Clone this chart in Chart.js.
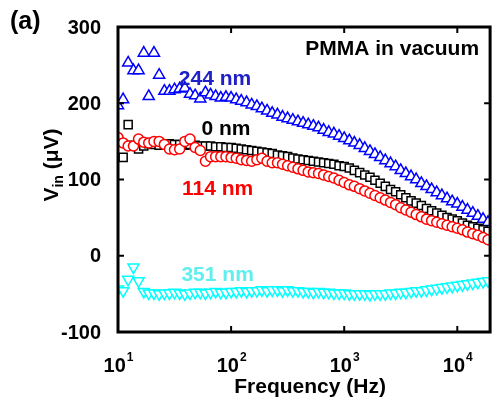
<!DOCTYPE html>
<html>
<head>
<meta charset="utf-8">
<script src="https://cdn.jsdelivr.net/npm/chart.js@4"></script>
<style>
  body { margin: 0; background: #fff; }
  canvas { display: block; }
</style>
</head>
<body>
<canvas id="myChart" width="498" height="413"></canvas>
<script>
// frequency sweep (Hz), shared by all four films
const freqHz = [10, 11.1, 12.3, 13.7, 15.2, 16.9, 18.7, 20.8, 23.1, 25.7, 28.5, 31.6, 35.1, 39, 43.3, 48.1, 53.4, 59.3, 65.8, 73, 81.1, 90.1,
  100, 111, 123, 137, 152, 169, 187, 208, 231, 257, 285, 316, 351, 390, 433, 481, 534, 593, 658, 730, 811, 901,
  1000, 1110, 1230, 1370, 1520, 1690, 1870, 2080, 2310, 2570, 2850, 3160, 3510, 3900, 4330, 4810, 5340, 5930, 6580, 7310, 8110, 9010,
  10000, 11100, 12300, 13700, 15200, 16900, 18700];

// V_in in microvolts
const vin114 = [155, 148, 144, 144, 153, 149, 148, 150, 150, 146, 140, 139, 140, 150, 153, 142, 138, 124, 130, 130, 130, 130,
  129, 128, 126, 125, 124, 126, 128, 124, 122, 122, 120, 118, 116, 114, 112, 110, 109, 108, 106, 104, 102, 99,
  96, 93, 91, 88, 85, 82, 79, 76, 73, 70, 67, 63, 60, 57, 54, 51, 48, 46, 44, 42, 40, 38,
  36, 34, 31, 29, 27, 24, 21];
const vin0 = [150, 129, 172, 145, 140, 144, 147, 146, 145, 147, 147, 146, 146, 145, 146, 145, 144, 144, 144, 143, 143, 142,
  142, 141, 140, 139, 138, 137, 136, 135, 134, 132, 131, 130, 128, 127, 126, 125, 124, 123, 122, 121, 120, 118,
  117, 115, 112, 109, 106, 103, 99, 95, 91, 87, 84, 80, 76, 72, 69, 66, 62, 59, 56, 53, 50, 48,
  46, 43, 40, 38, 36, 34, 32];
const vin244 = [197, 205, 253, 243, 243, 266, 209, 266, 237, 216, 216, 218, 219, 220, 212, 210, 206, 214, 211, 209, 207, 208,
  207, 205, 203, 201, 198, 196, 193, 190, 187, 185, 182, 180, 178, 176, 174, 172, 170, 168, 165, 162, 160, 157,
  154, 151, 148, 145, 141, 137, 133, 129, 125, 121, 117, 112, 108, 104, 100, 95, 91, 87, 83, 79, 75, 71,
  68, 64, 60, 56, 52, 48, 44];
const vin351 = [-44, -46, -31, -15, -33, -47, -49, -49, -50, -49, -49, -48, -49, -50, -49, -48, -48, -49, -48, -47, -48, -48,
  -47, -47, -46, -47, -46, -46, -45, -46, -45, -45, -46, -45, -46, -46, -47, -47, -48, -47, -48, -48, -49, -49,
  -49, -50, -50, -50, -50, -51, -50, -50, -50, -49, -49, -48, -48, -47, -46, -46, -45, -44, -43, -42, -41, -40,
  -39, -38, -37, -36, -35, -34, -33];

const xTicks = [10, 100, 1000, 10000];
const yTicks = [-100, 0, 100, 200, 300];

const FONT = '"Liberation Sans", Arial, sans-serif';

const pts = vals => vals.map((v, i) => ({ x: freqHz[i], y: v }));

// text labels next to each curve, placed in data coordinates
const curveLabels = [
  { text: '244 nm', x: 72, y: 232, color: '#2020c8' },
  { text: '0 nm', x: 90, y: 166, color: '#000000' },
  { text: '114 nm', x: 76, y: 87, color: '#ff0000' },
  { text: '351 nm', x: 76, y: -25, color: '#60eeee' }
];

const frame = {
  id: 'frame',
  afterDatasetsDraw(chart) {
    const { ctx, chartArea: a, scales: { x, y } } = chart;
    ctx.save();
    ctx.strokeStyle = '#000';
    ctx.fillStyle = '#000';

    // inward ticks on all four sides
    ctx.lineWidth = 2;
    ctx.beginPath();
    xTicks.forEach(v => {
      const px = x.getPixelForValue(v);
      ctx.moveTo(px, a.bottom); ctx.lineTo(px, a.bottom - 6);
      ctx.moveTo(px, a.top); ctx.lineTo(px, a.top + 6);
    });
    yTicks.forEach(v => {
      const py = y.getPixelForValue(v);
      ctx.moveTo(a.left, py); ctx.lineTo(a.left + 6, py);
      ctx.moveTo(a.right, py); ctx.lineTo(a.right - 6, py);
    });
    ctx.stroke();

    ctx.lineWidth = 3;
    ctx.strokeRect(a.left, a.top, a.width, a.height);

    // y tick labels
    ctx.font = 'bold 20px ' + FONT;
    ctx.textAlign = 'right';
    ctx.textBaseline = 'middle';
    yTicks.forEach(v => ctx.fillText(String(v), a.left - 17, y.getPixelForValue(v) + 1));

    // x tick labels 10^n
    ctx.textBaseline = 'alphabetic';
    xTicks.forEach(v => {
      const px = x.getPixelForValue(v);
      const exp = String(Math.round(Math.log10(v)));
      ctx.font = 'bold 20px ' + FONT;
      const w1 = ctx.measureText('10').width;
      ctx.font = 'bold 12px ' + FONT;
      const w2 = ctx.measureText(exp).width;
      const left = px - (w1 + w2) / 2;
      ctx.textAlign = 'left';
      ctx.font = 'bold 20px ' + FONT;
      ctx.fillText('10', left, a.bottom + 40);
      ctx.font = 'bold 12px ' + FONT;
      ctx.fillText(exp, left + w1 + 1, a.bottom + 29);
    });

    // x title
    ctx.font = 'bold 21px ' + FONT;
    ctx.textAlign = 'center';
    ctx.fillText('Frequency (Hz)', (a.left + a.right) / 2 + 6, a.bottom + 61);

    // y title with subscript, rotated
    ctx.save();
    ctx.translate(58, 165);
    ctx.rotate(-Math.PI / 2);
    ctx.textAlign = 'left';
    ctx.font = 'bold 21px ' + FONT;
    const wV = ctx.measureText('V').width;
    const wRest = ctx.measureText(' (\u03bcV)').width;
    ctx.font = 'bold 14px ' + FONT;
    const wSub = ctx.measureText('in').width;
    const start = -(wV + wSub + wRest) / 2;
    ctx.font = 'bold 21px ' + FONT;
    ctx.fillText('V', start, 0);
    ctx.font = 'bold 14px ' + FONT;
    ctx.fillText('in', start + wV, 5);
    ctx.font = 'bold 21px ' + FONT;
    ctx.fillText(' (\u03bcV)', start + wV + wSub, 0);
    ctx.restore();

    // panel letter and title
    ctx.font = 'bold 25px ' + FONT;
    ctx.textAlign = 'left';
    ctx.textBaseline = 'middle';
    ctx.fillText('(a)', 10, 22);
    ctx.font = 'bold 21px ' + FONT;
    ctx.textAlign = 'right';
    ctx.fillText('PMMA in vacuum', a.right - 11, a.top + 22);

    // curve labels
    ctx.textAlign = 'center';
    ctx.font = 'bold 21px ' + FONT;
    curveLabels.forEach(l => {
      ctx.fillStyle = l.color;
      ctx.fillText(l.text, x.getPixelForValue(l.x), y.getPixelForValue(l.y));
    });
    ctx.restore();
  }
};

new Chart(document.getElementById('myChart').getContext('2d'), {
  type: 'scatter',
  data: {
    datasets: [
      {
        label: '114 nm',
        data: pts(vin114),
        pointStyle: 'circle',
        pointRadius: 5,
        borderColor: '#ff0000',
        backgroundColor: '#ffffff',
        pointBorderWidth: 1.5
      },
      {
        label: '0 nm',
        data: pts(vin0),
        pointStyle: 'rect',
        pointRadius: 5.7,
        borderColor: '#000000',
        backgroundColor: '#ffffff',
        pointBorderWidth: 1.5
      },
      {
        label: '244 nm',
        data: pts(vin244),
        pointStyle: 'triangle',
        pointRadius: 6.4,
        borderColor: '#0000ff',
        backgroundColor: '#ffffff',
        pointBorderWidth: 1.5
      },
      {
        label: '351 nm',
        data: pts(vin351),
        pointStyle: 'triangle',
        pointRotation: 180,
        pointRadius: 6.4,
        borderColor: '#00ffff',
        backgroundColor: '#ffffff',
        pointBorderWidth: 1.5
      }
    ]
  },
  options: {
    responsive: false,
    animation: false,
    layout: { padding: { left: 118, top: 27, right: 7, bottom: 81 } },
    plugins: { legend: { display: false }, tooltip: { enabled: false } },
    scales: {
      x: { type: 'logarithmic', min: 10, max: 19500, display: false },
      y: { type: 'linear', min: -100, max: 300, display: false }
    }
  },
  plugins: [frame]
});
</script>
</body>
</html>
